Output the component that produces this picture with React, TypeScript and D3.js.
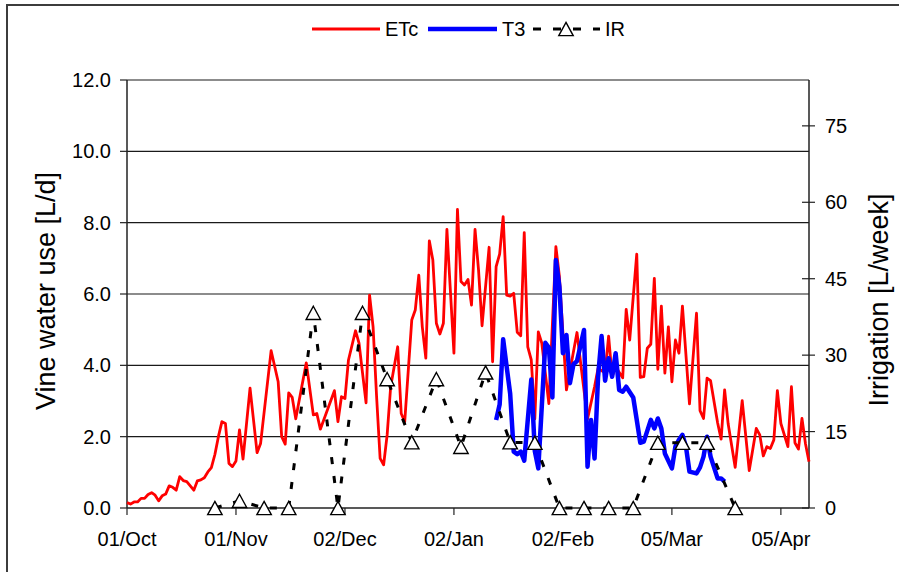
import React from 'react';
import * as d3 from 'd3';

// Days after 01/Oct and values
const etcDay = [0,1,2,3,4,5,6,7,8,9,10,11,12,13,14,15,16,17,19,20,21,22,23,24,25,26,27,28,29,30,31,32,33,35,37,38,41,43,44,45,46,47,48,49,51,53,54,55,57,59,60,61,62,63,65,66,67,68,69,70,71,72,73,74,75,77,78,79,81,82,83,84,85,86,87,88,89,90,91,93,94,95,96,97,98,99,100,101,103,104,105,106,107,108,109,110,111,112,113,114,115,116,117,118,120,122,123,125,128,129,131,133,134,135,136,137,138,139,141,142,143,145,146,147,148,149,150,151,152,153,154,155,156,157,158,160,162,163,164,165,166,168,169,170,171,173,175,177,179,180,181,182,183,184,185,186,188,189,190,191,192,193,194];
const etcValue = [0.15,0.11,0.17,0.17,0.27,0.27,0.38,0.43,0.36,0.2,0.34,0.39,0.62,0.58,0.5,0.88,0.77,0.74,0.5,0.76,0.79,0.85,1.01,1.13,1.5,2.0,2.42,2.37,1.25,1.16,1.32,2.19,1.37,3.36,1.55,1.81,4.41,3.54,2.0,1.79,3.23,3.1,2.5,3.03,4.07,2.61,2.65,2.21,2.75,3.29,2.42,3.12,3.07,4.15,4.97,4.62,3.78,2.95,5.97,5.08,3.12,1.39,1.21,2.05,3.4,4.52,2.65,2.42,5.27,5.55,6.53,5.08,4.2,7.49,6.95,5.18,4.88,5.18,7.81,4.34,8.37,6.35,6.25,6.41,5.69,7.81,6.67,5.11,7.31,4.1,6.77,7.12,8.17,5.97,5.94,6.02,4.93,4.83,7.72,4.52,4.15,2.5,4.94,4.62,2.93,7.33,6.49,3.31,4.92,4.1,2.5,3.4,3.92,3.85,3.8,4.82,3.68,3.96,3.65,5.57,4.71,7.12,3.66,3.68,4.48,4.59,6.44,3.89,5.66,3.78,5.08,3.54,4.71,4.34,5.66,2.92,5.46,2.73,2.51,3.64,3.57,2.39,1.93,3.31,2.36,1.14,3.01,1.05,2.23,2.05,1.46,1.72,1.67,1.91,3.29,2.37,1.72,3.4,1.83,1.65,2.51,1.8,1.3];

const t3Day = [105,106,107,108,109,110,111,112,113,115,116,117,119,120,121,122,123,124,125,126,127,128,130,131,132,133,134,135,136,137,138,139,140,141,142,144,145,146,147,149,150,151,152,153,155,156,157,158,159,160,162,163,164,165,166,168,169,170];
const t3Value = [2.47,2.9,4.73,3.96,3.2,1.58,1.51,1.58,1.33,3.6,1.6,1.11,4.63,4.5,3.1,6.95,6.2,4.34,4.85,3.5,4.03,4.12,4.99,1.16,2.47,1.39,3.68,4.82,3.57,4.2,3.68,4.34,3.31,3.26,3.4,3.1,2.47,1.83,1.86,2.47,2.23,2.51,2.23,1.53,1.11,1.72,1.91,2.05,1.72,1.02,0.97,1.14,1.44,2.0,1.44,0.83,0.83,0.74];

const irDay = [25,32,39,46,53,60,67,74,81,88,95,102,109,116,123,130,137,144,151,158,165,173];
const irValue = [0,1.4,0,0,38.3,0,38.3,25.3,12.9,25.3,12.0,26.6,12.9,12.8,0,0,0,0,12.8,12.8,12.8,0];

const leftTicks = [0, 2, 4, 6, 8, 10, 12];
const rightTicks = [0, 15, 30, 45, 60, 75];
const xTickDays = [0, 31, 62, 93, 124, 155, 186];
const seriesNames = ['ETc', 'T3', 'IR'];

const W = 899, H = 572;
const P = { left: 127, right: 809, top: 80, bottom: 508 };
const FONT = '"Liberation Sans", Arial, sans-serif';
const start = new Date(Date.UTC(2006, 9, 1));

const tri = 'M0,-6.6 L7.2,6.6 L-7.2,6.6 Z';

export default function App() {
  const dateOf = (d: number) => d3.utcDay.offset(start, d);
  const x = d3.scaleUtc().domain([dateOf(0), dateOf(194)]).range([P.left, P.right]);
  const yL = d3.scaleLinear().domain([0, 12]).range([P.bottom, P.top]);
  const yR = d3.scaleLinear().domain([0, 84]).range([P.bottom, P.top]);
  const fmt = d3.utcFormat('%d/%b');

  const etc = etcDay.map((d, i) => [d, etcValue[i]] as [number, number]);
  const t3 = t3Day.map((d, i) => [d, t3Value[i]] as [number, number]);
  const ir = irDay.map((d, i) => [d, irValue[i]] as [number, number]);

  const lineL = d3.line<[number, number]>().x(d => x(dateOf(d[0]))).y(d => yL(d[1]));
  const lineR = d3.line<[number, number]>().x(d => x(dateOf(d[0]))).y(d => yR(d[1]));

  return (
    <svg width={W} height={H} style={{ position: 'absolute', left: 0, top: 0, background: '#fff' }} fontFamily={FONT}>
      <rect x={7} y={5} width={W + 20} height={H + 20} fill="#fff" stroke="#3c3c3c" strokeWidth={2} />
      {/* gridlines */}
      {leftTicks.filter(t => t > 0).map(t => (
        <line key={'g' + t} x1={P.left} x2={P.right} y1={yL(t)} y2={yL(t)} stroke="#1a1a1a" strokeWidth={1.1} />
      ))}
      {/* left axis */}
      <line x1={P.left} x2={P.left} y1={P.top} y2={P.bottom} stroke="#222" strokeWidth={1.5} />
      {leftTicks.map(t => (
        <g key={'l' + t}>
          <line x1={P.left - 7} x2={P.left} y1={yL(t)} y2={yL(t)} stroke="#222" strokeWidth={1.2} />
          <text x={111} y={yL(t) + 7} textAnchor="end" fontSize={20} fill="#000">{t.toFixed(1)}</text>
        </g>
      ))}
      {/* right axis */}
      <line x1={P.right} x2={P.right} y1={P.top} y2={P.bottom} stroke="#222" strokeWidth={1.5} />
      {rightTicks.map(t => (
        <g key={'r' + t}>
          <line x1={P.right - 7} x2={P.right + 6} y1={yR(t)} y2={yR(t)} stroke="#222" strokeWidth={1.2} />
          <text x={825} y={yR(t) + 7} textAnchor="start" fontSize={20} fill="#000">{t}</text>
        </g>
      ))}
      {/* x axis */}
      <line x1={P.left} x2={P.right} y1={P.bottom} y2={P.bottom} stroke="#222" strokeWidth={1.5} />
      {xTickDays.map(d => (
        <g key={'x' + d}>
          <line x1={x(dateOf(d))} x2={x(dateOf(d))} y1={P.bottom} y2={P.bottom + 7} stroke="#222" strokeWidth={1.2} />
          <text x={x(dateOf(d))} y={546} textAnchor="middle" fontSize={20} fill="#000">{fmt(dateOf(d))}</text>
        </g>
      ))}
      {/* axis titles */}
      <text transform="translate(55,291) rotate(-90)" textAnchor="middle" fontSize={27} fill="#000">Vine water use [L/d]</text>
      <text transform="translate(888,300) rotate(-90)" textAnchor="middle" fontSize={27} fill="#000">Irrigation [L/week]</text>

      {/* series */}
      <path d={lineL(etc) || ''} fill="none" stroke="#ff0000" strokeWidth={2.8} strokeLinejoin="round" />
      <path d={lineL(t3) || ''} fill="none" stroke="#0000ff" strokeWidth={4.5} strokeLinejoin="round" />
      <path d={lineR(ir) || ''} fill="none" stroke="#000" strokeWidth={3} strokeDasharray="7 12" />
      {ir.map((d, i) => (
        <path key={'t' + i} d={tri} transform={`translate(${x(dateOf(d[0]))},${yR(d[1])})`} fill="#fff" stroke="#000" strokeWidth={1.4} />
      ))}

      {/* legend */}
      <line x1={312} x2={380} y1={29} y2={29} stroke="#ff0000" strokeWidth={3} />
      <text x={385} y={36} fontSize={20} fill="#000">{seriesNames[0]}</text>
      <line x1={428} x2={497} y1={29} y2={29} stroke="#0000ff" strokeWidth={4.5} />
      <text x={502} y={36} fontSize={20} fill="#000">{seriesNames[1]}</text>
      <line x1={533} x2={600} y1={29} y2={29} stroke="#000" strokeWidth={3} strokeDasharray="8 12" />
      <path d={tri} transform="translate(566,29)" fill="#fff" stroke="#000" strokeWidth={1.4} />
      <text x={605} y={36} fontSize={20} fill="#000">{seriesNames[2]}</text>
    </svg>
  );
}
